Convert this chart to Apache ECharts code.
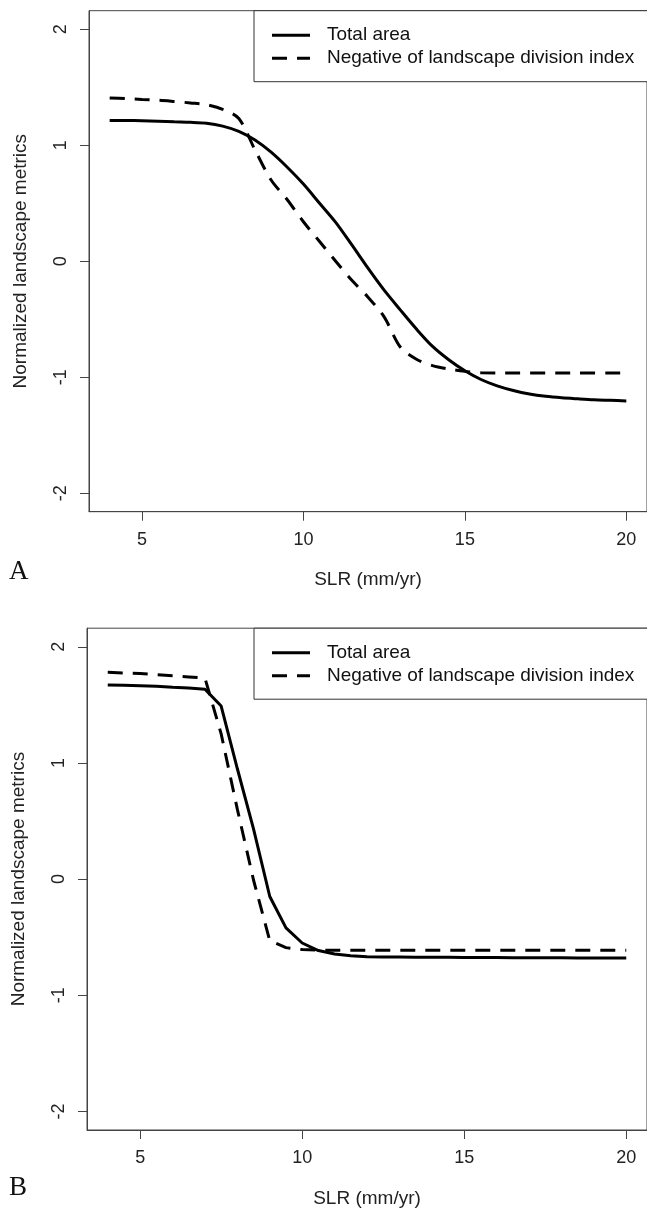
<!DOCTYPE html>
<html>
<head>
<meta charset="utf-8">
<script src="https://cdn.jsdelivr.net/npm/echarts@6/dist/echarts.min.js"></script>
<style>
* { margin: 0; padding: 0; }
body { background: #fff; }
#chart { width: 647px; height: 1209px; }
</style>
</head>
<body>
<div id="chart"></div>
<script>
// SLR values (mm/yr), one every 0.5
var slr = [4, 4.5, 5, 5.5, 6, 6.5, 7, 7.5, 8, 8.5, 9, 9.5, 10, 10.5, 11, 11.5, 12,
  12.5, 13, 13.5, 14, 14.5, 15, 15.5, 16, 16.5, 17, 17.5, 18, 18.5, 19, 19.5, 20];

// panel A
var totalAreaA = [1.214, 1.213, 1.211, 1.207, 1.202, 1.198, 1.19, 1.165, 1.12, 1.045, 0.94, 0.81, 0.665,
  0.5, 0.335, 0.14, -0.06, -0.25, -0.42, -0.585, -0.735, -0.85, -0.945, -1.02, -1.075,
  -1.115, -1.145, -1.165, -1.178, -1.187, -1.195, -1.2, -1.205];
var divisionA = [1.408, 1.402, 1.395, 1.388, 1.377, 1.365, 1.35, 1.31, 1.23, 0.96, 0.7, 0.53, 0.34,
  0.17, 0.0, -0.165, -0.31, -0.48, -0.74, -0.845, -0.9, -0.93, -0.95, -0.962, -0.963,
  -0.963, -0.963, -0.963, -0.963, -0.963, -0.963, -0.963, -0.963];

// panel B
var totalAreaB = [1.67, 1.668, 1.665, 1.66, 1.652, 1.645, 1.635, 1.49, 0.95, 0.43, -0.15, -0.42, -0.55,
  -0.615, -0.645, -0.66, -0.668, -0.67, -0.671, -0.672, -0.672, -0.673, -0.674, -0.675, -0.676,
  -0.677, -0.677, -0.678, -0.678, -0.679, -0.679, -0.68, -0.68];
var divisionB = [1.78, 1.775, 1.77, 1.76, 1.75, 1.74, 1.73, 1.25, 0.6, -0.01, -0.53, -0.59, -0.607,
  -0.612, -0.613, -0.613, -0.613, -0.613, -0.613, -0.613, -0.613, -0.613, -0.613, -0.613, -0.613,
  -0.613, -0.613, -0.613, -0.613, -0.613, -0.613, -0.613, -0.613];

var xTicks = [5, 10, 15, 20];
var yTicks = [-2, -1, 0, 1, 2];
var seriesNames = ['Total area', 'Negative of landscape division index'];
var panelLabels = ['A', 'B'];
var xName = 'SLR (mm/yr)';
var yName = 'Normalized landscape metrics';

var sans = "'Liberation Sans', Arial, sans-serif";
var axisColor = '#444';

// legend keys drawn as a solid bar and a two-dash bar
var solidKey = 'path://M0,0H38V3H0Z';
var dashKey = 'path://M0,0H15V3H0ZM25,0H38V3H25Z';

function pairs(ys) {
  return slr.map(function (x, i) { return [x, ys[i]]; });
}

var grids = [
  { left: 89, top: 10.7, width: 564.5, height: 501, show: true, borderColor: axisColor, borderWidth: 1 },
  { left: 87, top: 628.2, width: 564.5, height: 502.4, show: true, borderColor: axisColor, borderWidth: 1 }
];

function xAxis(i) {
  return {
    type: 'value', gridIndex: i, min: 3.36, max: 20.64,
    axisLine: { show: true, onZero: false, lineStyle: { color: axisColor, width: 1 } },
    axisTick: { show: true, inside: false, length: 9, customValues: xTicks, lineStyle: { color: axisColor } },
    axisLabel: { customValues: xTicks, margin: 19, fontSize: 18, color: '#222', fontFamily: sans },
    splitLine: { show: false },
    name: xName, nameLocation: 'middle', nameGap: 59,
    nameTextStyle: { fontSize: 19, color: '#222', fontFamily: sans }
  };
}

function yAxis(i) {
  return {
    type: 'value', gridIndex: i, min: -2.16, max: 2.16,
    axisLine: { show: true, onZero: false, lineStyle: { color: axisColor, width: 1 } },
    axisTick: { show: true, inside: false, length: 9, customValues: yTicks, lineStyle: { color: axisColor } },
    axisLabel: { customValues: yTicks, rotate: 90, margin: 19, fontSize: 18, color: '#222', fontFamily: sans },
    splitLine: { show: false },
    name: yName, nameLocation: 'middle', nameGap: 59,
    nameTextStyle: { fontSize: 19, color: '#222', fontFamily: sans }
  };
}

function legend(top) {
  return {
    orient: 'vertical', left: 254, top: top,
    data: [
      { name: seriesNames[0], icon: solidKey },
      { name: seriesNames[1], icon: dashKey }
    ],
    selectedMode: false,
    itemWidth: 38, itemHeight: 3, itemGap: 0,
    padding: [13, 16, 12, 18],
    borderColor: '#333', borderWidth: 1, borderRadius: 0,
    backgroundColor: '#fff',
    itemStyle: { color: '#000', borderWidth: 0 },
    textStyle: { fontSize: 19, lineHeight: 23, padding: [0, 0, 0, 12], color: '#111', fontFamily: sans }
  };
}

function line(name, data, idx, dashed, smooth) {
  return {
    name: name, type: 'line', xAxisIndex: idx, yAxisIndex: idx,
    data: pairs(data), symbol: 'none', smooth: smooth,
    lineStyle: { color: '#000', width: 3, type: dashed ? [15, 10] : 'solid', cap: 'butt' },
    itemStyle: { color: '#000' }
  };
}

var chart = echarts.init(document.getElementById('chart'));
chart.setOption({
  animation: false,
  backgroundColor: '#fff',
  title: [
    { text: panelLabels[0], left: 9, top: 558, padding: 0,
      textStyle: { fontFamily: "'Liberation Serif', 'Times New Roman', serif", fontSize: 27, fontWeight: 'normal', color: '#111' } },
    { text: panelLabels[1], left: 9, top: 1174, padding: 0,
      textStyle: { fontFamily: "'Liberation Serif', 'Times New Roman', serif", fontSize: 27, fontWeight: 'normal', color: '#111' } }
  ],
  legend: [legend(10.7), legend(628.2)],
  grid: grids,
  xAxis: [xAxis(0), xAxis(1)],
  yAxis: [yAxis(0), yAxis(1)],
  series: [
    line(seriesNames[0], totalAreaA, 0, false, 0.3),
    line(seriesNames[1], divisionA, 0, true, 0.3),
    line(seriesNames[0], totalAreaB, 1, false, false),
    line(seriesNames[1], divisionB, 1, true, false)
  ]
});
</script>
</body>
</html>
